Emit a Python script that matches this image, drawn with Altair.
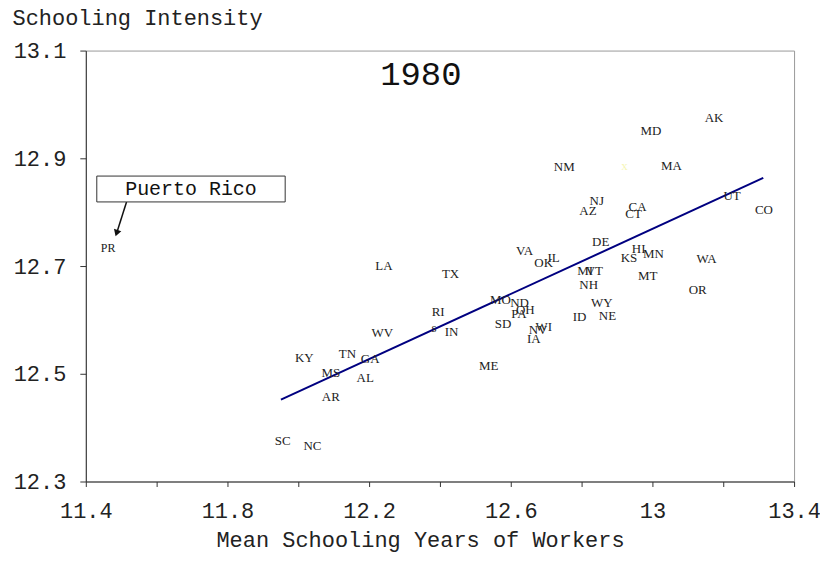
import altair as alt
import pandas as pd

# ---- data ----
states = ["PR", "KY", "TN", "GA", "MS", "AL", "AR", "SC", "NC", "WV",
          "RI", "s", "IN", "LA", "TX", "ME", "SD", "MO", "ND", "PA",
          "OH", "NV", "WI", "IA", "VA", "OK", "IL", "DE", "MI", "VT",
          "NH", "ID", "WY", "NE", "HI", "KS", "MN", "MT", "WA", "OR",
          "NJ", "AZ", "CA", "CT", "UT", "CO", "NM", "MA", "MD", "AK"]
school_years = [11.463, 12.017, 12.139, 12.203, 12.092, 12.189, 12.092, 11.956, 12.040, 12.237,
                12.395, 12.383, 12.433, 12.242, 12.430, 12.538, 12.578, 12.571, 12.625, 12.623,
                12.641, 12.677, 12.693, 12.665, 12.639, 12.693, 12.721, 12.854, 12.810, 12.836,
                12.820, 12.794, 12.857, 12.873, 12.961, 12.934, 13.003, 12.987, 13.153, 13.128,
                12.843, 12.818, 12.958, 12.947, 13.225, 13.315, 12.751, 13.054, 12.996, 13.174]
intensity = [12.733, 12.530, 12.536, 12.528, 12.501, 12.493, 12.456, 12.376, 12.365, 12.576,
             12.615, 12.585, 12.578, 12.700, 12.686, 12.514, 12.592, 12.637, 12.631, 12.611,
             12.619, 12.582, 12.586, 12.564, 12.728, 12.705, 12.715, 12.745, 12.691, 12.691,
             12.664, 12.606, 12.631, 12.608, 12.732, 12.715, 12.722, 12.682, 12.713, 12.656,
             12.820, 12.802, 12.810, 12.796, 12.830, 12.804, 12.884, 12.886, 12.951, 12.974]

# faint yellow marker label
faint_x = [12.921]
faint_y = [12.886]

# fitted line end points
fit_x = [11.951, 13.313]
fit_y = [12.452, 12.8635]

x_ticks = [11.4, 11.6, 11.8, 12.0, 12.2, 12.4, 12.6, 12.8, 13.0, 13.2, 13.4]
y_ticks = [12.3, 12.5, 12.7, 12.9, 13.1]

year_label = ["1980"]
year_pos = ([12.346], [13.054])

callout = ["Puerto Rico"]
box_x = [11.431, 11.963]
box_y = [12.819, 12.867]
arrow_x = [11.515, 11.487]
arrow_y = [12.819, 12.761]

MONO = "Liberation Mono"
SERIF = "Liberation Serif"

X = alt.X("x:Q",
          scale=alt.Scale(domain=[11.4, 13.4], nice=False, zero=False),
          axis=alt.Axis(values=x_ticks, grid=False, tickSize=5, domainColor="#333",
                        tickColor="#333", labelFont=MONO, labelFontSize=22, labelColor="#222",
                        labelPadding=14, labelFlush=False,
                        labelExpr="round(datum.value*10) % 4 == 2 ? toString(round(datum.value*10)/10) : ''",
                        title="Mean Schooling Years of Workers", titleFont=MONO,
                        titleFontSize=22, titleFontWeight="normal", titleColor="#222",
                        titleX=335, titleY=58, titleBaseline="middle", titleAlign="center"))
Y = alt.Y("y:Q",
          scale=alt.Scale(domain=[12.3, 13.1], nice=False, zero=False),
          axis=alt.Axis(values=y_ticks, grid=False, tickSize=6, domainColor="#333",
                        tickColor="#333", labelFont=MONO, labelFontSize=22, labelColor="#222",
                        labelPadding=14, labelFlush=False, format=".1f",
                        title="Schooling Intensity", titleFont=MONO, titleFontSize=22,
                        titleFontWeight="normal", titleColor="#222", titleAngle=0,
                        titleX=-74, titleY=-26, titleAlign="left", titleBaseline="alphabetic"))

pts = pd.DataFrame({"x": school_years, "y": intensity, "label": states})
pts["size"] = [12 if s == "PR" else 13 for s in states]

labels = alt.Chart(pts).mark_text(font=SERIF, color="#222", baseline="middle", align="center").encode(
    x=X, y=Y, text="label:N", size=alt.Size("size:Q", scale=None, legend=None))

faint = alt.Chart(pd.DataFrame({"x": faint_x, "y": faint_y, "t": ["x"]})).mark_text(
    font=SERIF, fontSize=13, color="#f6f6b8", baseline="middle").encode(x=X, y=Y, text="t:N")

fit = alt.Chart(pd.DataFrame({"x": fit_x, "y": fit_y})).mark_line(
    color="#000080", strokeWidth=2).encode(x=X, y=Y)

year = alt.Chart(pd.DataFrame({"x": year_pos[0], "y": year_pos[1], "t": year_label})).mark_text(
    font=MONO, fontSize=34, color="#111", baseline="middle").encode(x=X, y=Y, text="t:N")

box = alt.Chart(pd.DataFrame({"x": [box_x[0]], "x2": [box_x[1]], "y": [box_y[0]], "y2": [box_y[1]]})).mark_rect(
    fill="white", stroke="#333", strokeWidth=1).encode(x=X, x2="x2:Q", y=Y, y2="y2:Q")

box_text = alt.Chart(pd.DataFrame({"x": [(box_x[0] + box_x[1]) / 2], "y": [(box_y[0] + box_y[1]) / 2],
                                   "t": callout})).mark_text(
    font=MONO, fontSize=20, color="#111", baseline="middle").encode(x=X, y=Y, text="t:N")

arrow = alt.Chart(pd.DataFrame({"x": arrow_x, "y": arrow_y})).mark_line(
    color="#111", strokeWidth=1.5).encode(x=X, y=Y)

head = alt.Chart(pd.DataFrame({"x": [arrow_x[1]], "y": [arrow_y[1]]})).mark_point(
    shape="triangle-down", filled=True, color="#111", size=60, angle=18, opacity=1).encode(x=X, y=Y)

chart = alt.layer(fit, labels, faint, year, arrow, head, box, box_text).properties(
    width=710, height=432,
    autosize=alt.AutoSizeParams(type="none"),
    padding={"left": 78, "top": 42, "right": 26, "bottom": 71},
    background="white",
).configure_view(stroke="#999", strokeWidth=1)

chart.save("out.html", embed_options={"renderer": "svg", "actions": False})
